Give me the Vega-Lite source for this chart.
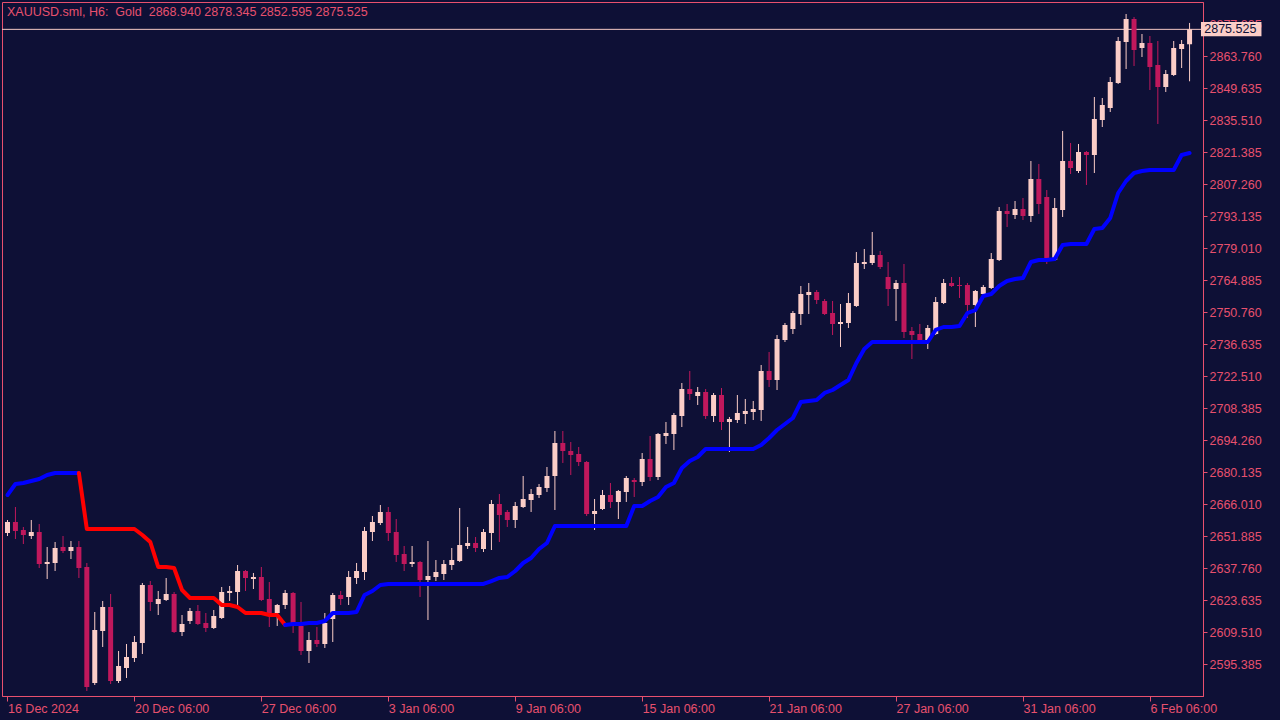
{
"$schema": "https://vega.github.io/schema/vega-lite/v6.json",
"autosize": {"type": "none"},
"width": 1201,
"height": 694,
"padding": {"left": 2, "top": 2, "right": 77, "bottom": 24},
"background": "#0e1036",
"title": {"text": "XAUUSD.sml, H6:\u00a0 Gold\u00a0 2868.940 2878.345 2852.595 2875.525", "anchor": "start", "frame": "group", "orient": "top", "offset": -14, "baseline": "alphabetic", "dx": 5, "dy": 12, "font": "Liberation Sans", "fontSize": 12.5, "fontWeight": "normal", "color": "#e8506e"},
"datasets": {
"c": [
{"i":0,"o":2653.21,"h":2658.95,"l":2651.88,"c":2658.07},
{"i":1,"o":2658.07,"h":2664.69,"l":2650.56,"c":2654.09},
{"i":2,"o":2654.53,"h":2655.86,"l":2648.35,"c":2652.32},
{"i":3,"o":2651.88,"h":2658.95,"l":2650.56,"c":2653.65},
{"i":4,"o":2653.65,"h":2657.18,"l":2637.76,"c":2639.52},
{"i":5,"o":2639.52,"h":2647.03,"l":2632.91,"c":2640.41},
{"i":6,"o":2639.97,"h":2649.24,"l":2636.44,"c":2646.59},
{"i":7,"o":2647.03,"h":2651.88,"l":2644.38,"c":2645.26},
{"i":8,"o":2645.26,"h":2649.68,"l":2641.73,"c":2647.03},
{"i":9,"o":2647.03,"h":2649.68,"l":2633.35,"c":2637.76},
{"i":10,"o":2638.20,"h":2639.97,"l":2583.47,"c":2585.23},
{"i":11,"o":2587.00,"h":2618.34,"l":2586.11,"c":2610.39},
{"i":12,"o":2609.95,"h":2623.20,"l":2602.89,"c":2620.55},
{"i":13,"o":2620.55,"h":2626.28,"l":2586.55,"c":2587.88},
{"i":14,"o":2587.88,"h":2601.12,"l":2587.00,"c":2594.50},
{"i":15,"o":2593.62,"h":2604.21,"l":2589.21,"c":2598.47},
{"i":16,"o":2598.03,"h":2607.74,"l":2596.27,"c":2605.10},
{"i":17,"o":2604.66,"h":2631.14,"l":2599.80,"c":2630.25},
{"i":18,"o":2630.25,"h":2632.02,"l":2618.78,"c":2622.76},
{"i":19,"o":2621.87,"h":2627.61,"l":2617.01,"c":2624.08},
{"i":20,"o":2623.64,"h":2633.35,"l":2623.20,"c":2626.28},
{"i":21,"o":2626.28,"h":2627.17,"l":2609.07,"c":2609.51},
{"i":22,"o":2609.51,"h":2617.01,"l":2607.74,"c":2613.04},
{"i":23,"o":2614.37,"h":2620.11,"l":2613.04,"c":2618.78},
{"i":24,"o":2618.78,"h":2621.43,"l":2612.60,"c":2613.04},
{"i":25,"o":2613.49,"h":2617.90,"l":2609.51,"c":2611.28},
{"i":26,"o":2611.28,"h":2619.22,"l":2610.84,"c":2616.57},
{"i":27,"o":2615.69,"h":2629.37,"l":2615.25,"c":2627.17},
{"i":28,"o":2626.73,"h":2629.81,"l":2623.20,"c":2627.61},
{"i":29,"o":2627.17,"h":2639.08,"l":2621.43,"c":2636.44},
{"i":30,"o":2636.44,"h":2636.88,"l":2627.61,"c":2633.35},
{"i":31,"o":2632.91,"h":2635.56,"l":2628.49,"c":2633.79},
{"i":32,"o":2633.79,"h":2638.20,"l":2623.20,"c":2623.64},
{"i":33,"o":2624.08,"h":2631.58,"l":2611.72,"c":2617.90},
{"i":34,"o":2617.90,"h":2621.87,"l":2612.16,"c":2621.43},
{"i":35,"o":2621.43,"h":2628.05,"l":2619.66,"c":2626.73},
{"i":36,"o":2626.73,"h":2627.17,"l":2609.07,"c":2613.04},
{"i":37,"o":2612.16,"h":2622.76,"l":2599.35,"c":2601.12},
{"i":38,"o":2601.12,"h":2609.51,"l":2595.83,"c":2605.98},
{"i":39,"o":2605.98,"h":2611.72,"l":2602.89,"c":2604.21},
{"i":40,"o":2604.21,"h":2617.90,"l":2602.45,"c":2613.49},
{"i":41,"o":2615.25,"h":2626.73,"l":2605.10,"c":2625.84},
{"i":42,"o":2625.84,"h":2627.61,"l":2621.43,"c":2624.08},
{"i":43,"o":2624.96,"h":2636.44,"l":2621.43,"c":2633.79},
{"i":44,"o":2633.35,"h":2639.97,"l":2630.70,"c":2636.44},
{"i":45,"o":2636.00,"h":2655.86,"l":2632.46,"c":2654.09},
{"i":46,"o":2653.65,"h":2660.72,"l":2649.68,"c":2658.07},
{"i":47,"o":2657.63,"h":2665.57,"l":2656.74,"c":2662.48},
{"i":48,"o":2662.48,"h":2664.69,"l":2649.68,"c":2653.21},
{"i":49,"o":2653.65,"h":2659.39,"l":2640.41,"c":2643.49},
{"i":50,"o":2643.93,"h":2647.47,"l":2636.44,"c":2639.52},
{"i":51,"o":2639.52,"h":2647.47,"l":2638.20,"c":2640.41},
{"i":52,"o":2640.41,"h":2640.85,"l":2624.96,"c":2632.46},
{"i":53,"o":2632.46,"h":2649.68,"l":2614.81,"c":2634.23},
{"i":54,"o":2633.79,"h":2641.29,"l":2632.02,"c":2636.00},
{"i":55,"o":2635.11,"h":2641.29,"l":2632.46,"c":2639.52},
{"i":56,"o":2639.08,"h":2646.59,"l":2636.88,"c":2641.29},
{"i":57,"o":2640.85,"h":2664.25,"l":2640.41,"c":2647.91},
{"i":58,"o":2647.47,"h":2655.86,"l":2646.15,"c":2648.80},
{"i":59,"o":2648.80,"h":2651.44,"l":2644.82,"c":2646.59},
{"i":60,"o":2646.15,"h":2654.97,"l":2644.82,"c":2653.65},
{"i":61,"o":2653.21,"h":2667.78,"l":2645.70,"c":2666.01},
{"i":62,"o":2666.01,"h":2670.42,"l":2649.24,"c":2661.15},
{"i":63,"o":2662.48,"h":2663.36,"l":2655.86,"c":2658.95},
{"i":64,"o":2658.95,"h":2666.90,"l":2655.42,"c":2665.13},
{"i":65,"o":2664.69,"h":2678.37,"l":2664.25,"c":2668.22},
{"i":66,"o":2667.78,"h":2672.63,"l":2662.48,"c":2670.42},
{"i":67,"o":2669.98,"h":2674.83,"l":2668.66,"c":2673.51},
{"i":68,"o":2673.07,"h":2682.34,"l":2671.31,"c":2678.37},
{"i":69,"o":2678.37,"h":2698.23,"l":2663.36,"c":2692.94},
{"i":70,"o":2692.94,"h":2698.23,"l":2684.11,"c":2689.41},
{"i":71,"o":2689.41,"h":2693.38,"l":2678.81,"c":2687.64},
{"i":72,"o":2688.08,"h":2691.17,"l":2682.79,"c":2684.55},
{"i":73,"o":2684.55,"h":2684.99,"l":2660.72,"c":2661.59},
{"i":74,"o":2661.59,"h":2668.22,"l":2654.53,"c":2662.92},
{"i":75,"o":2663.80,"h":2672.19,"l":2663.36,"c":2669.98},
{"i":76,"o":2669.98,"h":2675.28,"l":2664.25,"c":2666.90},
{"i":77,"o":2666.90,"h":2672.19,"l":2659.39,"c":2671.75},
{"i":78,"o":2671.31,"h":2678.37,"l":2666.90,"c":2677.48},
{"i":79,"o":2676.60,"h":2677.48,"l":2669.10,"c":2675.72},
{"i":80,"o":2675.72,"h":2688.52,"l":2673.95,"c":2685.87},
{"i":81,"o":2685.87,"h":2696.02,"l":2676.16,"c":2677.92},
{"i":82,"o":2677.92,"h":2697.35,"l":2676.60,"c":2696.91},
{"i":83,"o":2696.02,"h":2702.21,"l":2692.50,"c":2697.35},
{"i":84,"o":2696.91,"h":2706.18,"l":2689.85,"c":2705.30},
{"i":85,"o":2704.85,"h":2719.42,"l":2699.99,"c":2716.77},
{"i":86,"o":2716.77,"h":2724.72,"l":2711.92,"c":2714.57},
{"i":87,"o":2713.68,"h":2717.66,"l":2709.71,"c":2715.45},
{"i":88,"o":2715.45,"h":2716.77,"l":2703.53,"c":2704.85},
{"i":89,"o":2704.85,"h":2715.01,"l":2702.21,"c":2714.12},
{"i":90,"o":2714.12,"h":2717.21,"l":2698.67,"c":2702.21},
{"i":91,"o":2702.21,"h":2704.41,"l":2688.96,"c":2703.53},
{"i":92,"o":2703.09,"h":2714.12,"l":2701.77,"c":2706.18},
{"i":93,"o":2705.74,"h":2712.36,"l":2701.32,"c":2707.06},
{"i":94,"o":2706.62,"h":2711.48,"l":2703.09,"c":2707.94},
{"i":95,"o":2707.50,"h":2727.37,"l":2702.65,"c":2724.72},
{"i":96,"o":2724.72,"h":2733.10,"l":2717.66,"c":2720.75},
{"i":97,"o":2720.75,"h":2740.61,"l":2716.33,"c":2738.84},
{"i":98,"o":2738.40,"h":2745.90,"l":2737.52,"c":2745.02},
{"i":99,"o":2743.26,"h":2751.20,"l":2741.05,"c":2750.32},
{"i":100,"o":2749.88,"h":2762.24,"l":2745.02,"c":2758.71},
{"i":101,"o":2758.26,"h":2763.56,"l":2749.88,"c":2759.59},
{"i":102,"o":2759.59,"h":2760.47,"l":2754.29,"c":2756.06},
{"i":103,"o":2755.62,"h":2756.50,"l":2749.43,"c":2749.88},
{"i":104,"o":2750.32,"h":2755.62,"l":2740.61,"c":2745.46},
{"i":105,"o":2745.46,"h":2754.29,"l":2735.32,"c":2746.35},
{"i":106,"o":2745.90,"h":2759.15,"l":2743.70,"c":2754.74},
{"i":107,"o":2753.41,"h":2777.24,"l":2752.97,"c":2772.39},
{"i":108,"o":2771.95,"h":2778.57,"l":2769.74,"c":2772.83},
{"i":109,"o":2772.39,"h":2786.07,"l":2771.50,"c":2775.92},
{"i":110,"o":2775.92,"h":2777.68,"l":2769.74,"c":2770.62},
{"i":111,"o":2766.21,"h":2772.83,"l":2753.41,"c":2760.91},
{"i":112,"o":2760.91,"h":2764.89,"l":2746.79,"c":2763.56},
{"i":113,"o":2763.56,"h":2771.95,"l":2739.28,"c":2741.93},
{"i":114,"o":2742.38,"h":2744.14,"l":2730.01,"c":2740.61},
{"i":115,"o":2741.05,"h":2745.46,"l":2737.96,"c":2738.40},
{"i":116,"o":2738.40,"h":2745.02,"l":2734.43,"c":2743.70},
{"i":117,"o":2741.05,"h":2757.38,"l":2740.61,"c":2755.18},
{"i":118,"o":2754.74,"h":2765.33,"l":2754.29,"c":2763.56},
{"i":119,"o":2763.56,"h":2766.21,"l":2761.80,"c":2762.24},
{"i":120,"o":2762.68,"h":2766.21,"l":2756.94,"c":2762.24},
{"i":121,"o":2762.68,"h":2763.56,"l":2748.11,"c":2753.85},
{"i":122,"o":2753.85,"h":2760.47,"l":2744.14,"c":2760.03},
{"i":123,"o":2758.71,"h":2762.68,"l":2758.26,"c":2761.80},
{"i":124,"o":2761.36,"h":2776.80,"l":2760.91,"c":2774.16},
{"i":125,"o":2773.71,"h":2797.11,"l":2773.27,"c":2795.34},
{"i":126,"o":2795.34,"h":2798.43,"l":2788.28,"c":2794.02},
{"i":127,"o":2793.58,"h":2799.76,"l":2791.81,"c":2796.23},
{"i":128,"o":2796.23,"h":2801.08,"l":2791.37,"c":2793.14},
{"i":129,"o":2793.14,"h":2817.41,"l":2790.49,"c":2809.47},
{"i":130,"o":2809.47,"h":2816.09,"l":2794.02,"c":2798.43},
{"i":131,"o":2801.52,"h":2804.61,"l":2771.95,"c":2773.71},
{"i":132,"o":2773.71,"h":2801.08,"l":2773.27,"c":2796.67},
{"i":133,"o":2795.78,"h":2830.66,"l":2792.70,"c":2817.41},
{"i":134,"o":2817.41,"h":2825.36,"l":2811.67,"c":2814.32},
{"i":135,"o":2813.00,"h":2824.92,"l":2812.11,"c":2821.38},
{"i":136,"o":2821.38,"h":2821.83,"l":2806.82,"c":2820.06},
{"i":137,"o":2820.06,"h":2845.66,"l":2812.11,"c":2835.95},
{"i":138,"o":2835.51,"h":2845.22,"l":2832.42,"c":2842.13},
{"i":139,"o":2840.81,"h":2854.49,"l":2839.04,"c":2852.28},
{"i":140,"o":2851.84,"h":2872.15,"l":2851.40,"c":2870.38},
{"i":141,"o":2869.94,"h":2882.30,"l":2858.02,"c":2880.09},
{"i":142,"o":2880.09,"h":2880.97,"l":2859.35,"c":2866.41},
{"i":143,"o":2867.29,"h":2873.47,"l":2863.32,"c":2869.50},
{"i":144,"o":2869.50,"h":2872.59,"l":2848.75,"c":2858.90},
{"i":145,"o":2859.79,"h":2870.38,"l":2833.75,"c":2850.08},
{"i":146,"o":2850.08,"h":2857.58,"l":2847.87,"c":2855.82},
{"i":147,"o":2855.37,"h":2870.38,"l":2854.93,"c":2867.29},
{"i":148,"o":2866.85,"h":2870.82,"l":2858.46,"c":2869.06},
{"i":149,"o":2868.94,"h":2878.345,"l":2852.595,"c":2875.525}
],
"st": [
{"i":0,"v":2669.98,"s":"a","t":"up"},{"i":1,"v":2674.83,"s":"a","t":"up"},{"i":2,"v":2675.28,"s":"a","t":"up"},{"i":3,"v":2676.16,"s":"a","t":"up"},{"i":4,"v":2677.04,"s":"a","t":"up"},{"i":5,"v":2678.81,"s":"a","t":"up"},{"i":6,"v":2679.69,"s":"a","t":"up"},{"i":7,"v":2679.69,"s":"a","t":"up"},{"i":8,"v":2679.69,"s":"a","t":"up"},{"i":9,"v":2679.69,"s":"a","t":"up"},
{"i":9,"v":2679.69,"s":"b","t":"down"},{"i":10,"v":2654.97,"s":"b","t":"down"},{"i":11,"v":2654.97,"s":"b","t":"down"},{"i":12,"v":2654.97,"s":"b","t":"down"},{"i":13,"v":2654.97,"s":"b","t":"down"},{"i":14,"v":2654.97,"s":"b","t":"down"},{"i":15,"v":2654.97,"s":"b","t":"down"},{"i":16,"v":2654.97,"s":"b","t":"down"},{"i":17,"v":2652.32,"s":"b","t":"down"},{"i":18,"v":2649.24,"s":"b","t":"down"},{"i":19,"v":2638.20,"s":"b","t":"down"},{"i":20,"v":2638.20,"s":"b","t":"down"},{"i":21,"v":2637.76,"s":"b","t":"down"},{"i":22,"v":2628.05,"s":"b","t":"down"},{"i":23,"v":2624.52,"s":"b","t":"down"},{"i":24,"v":2624.52,"s":"b","t":"down"},{"i":25,"v":2624.52,"s":"b","t":"down"},{"i":26,"v":2624.52,"s":"b","t":"down"},{"i":27,"v":2621.43,"s":"b","t":"down"},{"i":28,"v":2621.43,"s":"b","t":"down"},{"i":29,"v":2620.55,"s":"b","t":"down"},{"i":30,"v":2617.90,"s":"b","t":"down"},{"i":31,"v":2617.90,"s":"b","t":"down"},{"i":32,"v":2617.90,"s":"b","t":"down"},{"i":33,"v":2617.01,"s":"b","t":"down"},{"i":34,"v":2617.01,"s":"b","t":"down"},{"i":35,"v":2612.60,"s":"b","t":"down"},
{"i":35,"v":2612.60,"s":"c","t":"up"},{"i":36,"v":2613.04,"s":"c","t":"up"},{"i":37,"v":2613.04,"s":"c","t":"up"},{"i":38,"v":2613.49,"s":"c","t":"up"},{"i":39,"v":2613.49,"s":"c","t":"up"},{"i":40,"v":2614.37,"s":"c","t":"up"},{"i":41,"v":2617.90,"s":"c","t":"up"},{"i":42,"v":2617.90,"s":"c","t":"up"},{"i":43,"v":2617.90,"s":"c","t":"up"},{"i":44,"v":2618.34,"s":"c","t":"up"},{"i":45,"v":2625.84,"s":"c","t":"up"},{"i":46,"v":2627.61,"s":"c","t":"up"},{"i":47,"v":2630.25,"s":"c","t":"up"},{"i":48,"v":2630.70,"s":"c","t":"up"},{"i":49,"v":2630.70,"s":"c","t":"up"},{"i":50,"v":2630.70,"s":"c","t":"up"},{"i":51,"v":2630.70,"s":"c","t":"up"},{"i":52,"v":2630.70,"s":"c","t":"up"},{"i":53,"v":2630.70,"s":"c","t":"up"},{"i":54,"v":2630.70,"s":"c","t":"up"},{"i":55,"v":2630.70,"s":"c","t":"up"},{"i":56,"v":2630.70,"s":"c","t":"up"},{"i":57,"v":2630.70,"s":"c","t":"up"},{"i":58,"v":2630.70,"s":"c","t":"up"},{"i":59,"v":2630.70,"s":"c","t":"up"},{"i":60,"v":2630.70,"s":"c","t":"up"},{"i":61,"v":2632.02,"s":"c","t":"up"},{"i":62,"v":2633.35,"s":"c","t":"up"},{"i":63,"v":2633.79,"s":"c","t":"up"},{"i":64,"v":2636.44,"s":"c","t":"up"},{"i":65,"v":2639.97,"s":"c","t":"up"},{"i":66,"v":2642.18,"s":"c","t":"up"},{"i":67,"v":2646.15,"s":"c","t":"up"},{"i":68,"v":2648.80,"s":"c","t":"up"},{"i":69,"v":2656.30,"s":"c","t":"up"},{"i":70,"v":2656.30,"s":"c","t":"up"},{"i":71,"v":2656.30,"s":"c","t":"up"},{"i":72,"v":2656.30,"s":"c","t":"up"},{"i":73,"v":2656.30,"s":"c","t":"up"},{"i":74,"v":2656.30,"s":"c","t":"up"},{"i":75,"v":2656.30,"s":"c","t":"up"},{"i":76,"v":2656.30,"s":"c","t":"up"},{"i":77,"v":2656.30,"s":"c","t":"up"},{"i":78,"v":2656.30,"s":"c","t":"up"},{"i":79,"v":2665.13,"s":"c","t":"up"},{"i":80,"v":2665.13,"s":"c","t":"up"},{"i":81,"v":2667.34,"s":"c","t":"up"},{"i":82,"v":2669.10,"s":"c","t":"up"},{"i":83,"v":2673.51,"s":"c","t":"up"},{"i":84,"v":2675.28,"s":"c","t":"up"},{"i":85,"v":2681.90,"s":"c","t":"up"},{"i":86,"v":2684.99,"s":"c","t":"up"},{"i":87,"v":2686.76,"s":"c","t":"up"},{"i":88,"v":2690.29,"s":"c","t":"up"},{"i":89,"v":2690.29,"s":"c","t":"up"},{"i":90,"v":2690.29,"s":"c","t":"up"},{"i":91,"v":2690.29,"s":"c","t":"up"},{"i":92,"v":2690.29,"s":"c","t":"up"},{"i":93,"v":2690.29,"s":"c","t":"up"},{"i":94,"v":2690.29,"s":"c","t":"up"},{"i":95,"v":2692.05,"s":"c","t":"up"},{"i":96,"v":2695.14,"s":"c","t":"up"},{"i":97,"v":2698.67,"s":"c","t":"up"},{"i":98,"v":2701.32,"s":"c","t":"up"},{"i":99,"v":2703.97,"s":"c","t":"up"},{"i":100,"v":2711.03,"s":"c","t":"up"},{"i":101,"v":2711.48,"s":"c","t":"up"},{"i":102,"v":2711.92,"s":"c","t":"up"},{"i":103,"v":2715.01,"s":"c","t":"up"},{"i":104,"v":2716.33,"s":"c","t":"up"},{"i":105,"v":2718.54,"s":"c","t":"up"},{"i":106,"v":2720.75,"s":"c","t":"up"},{"i":107,"v":2728.25,"s":"c","t":"up"},{"i":108,"v":2734.43,"s":"c","t":"up"},{"i":109,"v":2737.52,"s":"c","t":"up"},{"i":110,"v":2737.52,"s":"c","t":"up"},{"i":111,"v":2737.52,"s":"c","t":"up"},{"i":112,"v":2737.52,"s":"c","t":"up"},{"i":113,"v":2737.52,"s":"c","t":"up"},{"i":114,"v":2737.52,"s":"c","t":"up"},{"i":115,"v":2737.52,"s":"c","t":"up"},{"i":116,"v":2737.52,"s":"c","t":"up"},{"i":117,"v":2742.82,"s":"c","t":"up"},{"i":118,"v":2744.14,"s":"c","t":"up"},{"i":119,"v":2744.14,"s":"c","t":"up"},{"i":120,"v":2744.58,"s":"c","t":"up"},{"i":121,"v":2750.32,"s":"c","t":"up"},{"i":122,"v":2751.64,"s":"c","t":"up"},{"i":123,"v":2757.82,"s":"c","t":"up"},{"i":124,"v":2758.71,"s":"c","t":"up"},{"i":125,"v":2762.24,"s":"c","t":"up"},{"i":126,"v":2764.45,"s":"c","t":"up"},{"i":127,"v":2765.33,"s":"c","t":"up"},{"i":128,"v":2765.77,"s":"c","t":"up"},{"i":129,"v":2772.83,"s":"c","t":"up"},{"i":130,"v":2773.71,"s":"c","t":"up"},{"i":131,"v":2773.71,"s":"c","t":"up"},{"i":132,"v":2774.16,"s":"c","t":"up"},{"i":133,"v":2780.34,"s":"c","t":"up"},{"i":134,"v":2780.78,"s":"c","t":"up"},{"i":135,"v":2780.78,"s":"c","t":"up"},{"i":136,"v":2780.78,"s":"c","t":"up"},{"i":137,"v":2787.40,"s":"c","t":"up"},{"i":138,"v":2787.84,"s":"c","t":"up"},{"i":139,"v":2792.25,"s":"c","t":"up"},{"i":140,"v":2803.29,"s":"c","t":"up"},{"i":141,"v":2808.59,"s":"c","t":"up"},{"i":142,"v":2812.11,"s":"c","t":"up"},{"i":143,"v":2813.00,"s":"c","t":"up"},{"i":144,"v":2813.44,"s":"c","t":"up"},{"i":145,"v":2813.44,"s":"c","t":"up"},{"i":146,"v":2813.44,"s":"c","t":"up"},{"i":147,"v":2813.44,"s":"c","t":"up"},{"i":148,"v":2820.06,"s":"c","t":"up"},{"i":149,"v":2820.95,"s":"c","t":"up"}
]
},
"layer": [
{
"data": {"values": [{}]},
"mark": {"type": "rule", "color": "#f5c8c4", "strokeWidth": 1},
"encoding": {
"y": {"datum": 2875.525, "type": "quantitative", "scale": {"domain": [2581.26, 2887.596], "nice": false, "zero": false},
"axis": {"orient": "right", "values": [2877.885,2863.760,2849.635,2835.510,2821.385,2807.260,2793.135,2779.010,2764.885,2750.760,2736.635,2722.510,2708.385,2694.260,2680.135,2666.010,2651.885,2637.760,2623.635,2609.510,2595.385], "tickCount": 40, "format": ".3f", "tickSize": 4, "labelPadding": 2, "labelAlign": "left", "labelBaseline": "middle", "labelOverlap": false, "labelFlush": false, "labelBound": false, "title": null}}
}
},
{
"data": {"name": "c"},
"mark": {"type": "rule", "strokeWidth": 1},
"encoding": {
"x": {"field": "i", "type": "quantitative", "scale": {"domain": [-0.0625, 150.0625], "nice": false, "zero": false},
"axis": {"orient": "bottom", "values": [0,16,32,48,64,80,96,112,128,144], "tickCount": 40, "labelExpr": "['16 Dec 2024','20 Dec 06:00','27 Dec 06:00','3 Jan 06:00','9 Jan 06:00','15 Jan 06:00','21 Jan 06:00','27 Jan 06:00','31 Jan 06:00','6 Feb 06:00'][round(datum.value/16)]", "tickSize": 5, "labelAlign": "left", "labelBaseline": "top", "labelPadding": 1, "labelFlush": false, "labelOverlap": false, "labelBound": false, "title": null}},
"y": {"field": "l", "type": "quantitative"},
"y2": {"field": "h"},
"color": {"condition": {"test": "datum.c >= datum.o", "value": "#fbcdc7"}, "value": "#c0185c"}
}
},
{
"data": {"name": "c"},
"mark": {"type": "bar", "size": 5},
"encoding": {
"x": {"field": "i", "type": "quantitative"},
"y": {"field": "o", "type": "quantitative"},
"y2": {"field": "c"},
"color": {"condition": {"test": "datum.c >= datum.o", "value": "#fbcdc7"}, "value": "#c0185c"}
}
},
{
"data": {"name": "st"},
"mark": {"type": "line", "strokeWidth": 4, "strokeJoin": "round", "strokeCap": "round"},
"encoding": {
"x": {"field": "i", "type": "quantitative"},
"y": {"field": "v", "type": "quantitative"},
"detail": {"field": "s", "type": "nominal"},
"color": {"field": "t", "type": "nominal", "scale": {"domain": ["up", "down"], "range": ["#0000ff", "#ff0000"]}, "legend": null}
}
},
{
"data": {"values": [{}]},
"mark": {"type": "rect", "color": "#fbcdc7"},
"encoding": {
"x": {"datum": 150.4375, "type": "quantitative"},
"x2": {"datum": 158.0625},
"y": {"datum": 2878.8, "type": "quantitative"},
"y2": {"datum": 2872.5}
}
},
{
"data": {"values": [{}]},
"mark": {"type": "text", "align": "left", "baseline": "middle", "font": "Liberation Sans", "fontSize": 12.5, "color": "#0e1036", "text": "2875.525"},
"encoding": {
"x": {"datum": 150.85, "type": "quantitative"},
"y": {"datum": 2875.525, "type": "quantitative"}
}
}
],
"config": {
"view": {"stroke": "#e8506e", "strokeWidth": 1, "fill": "#0e1036"},
"axis": {"labelFont": "Liberation Sans", "labelFontSize": 12.5, "labelColor": "#e8506e", "domainColor": "#e8506e", "tickColor": "#e8506e", "grid": false, "domainWidth": 1, "tickWidth": 1, "labelOverlap": false}
}
}
